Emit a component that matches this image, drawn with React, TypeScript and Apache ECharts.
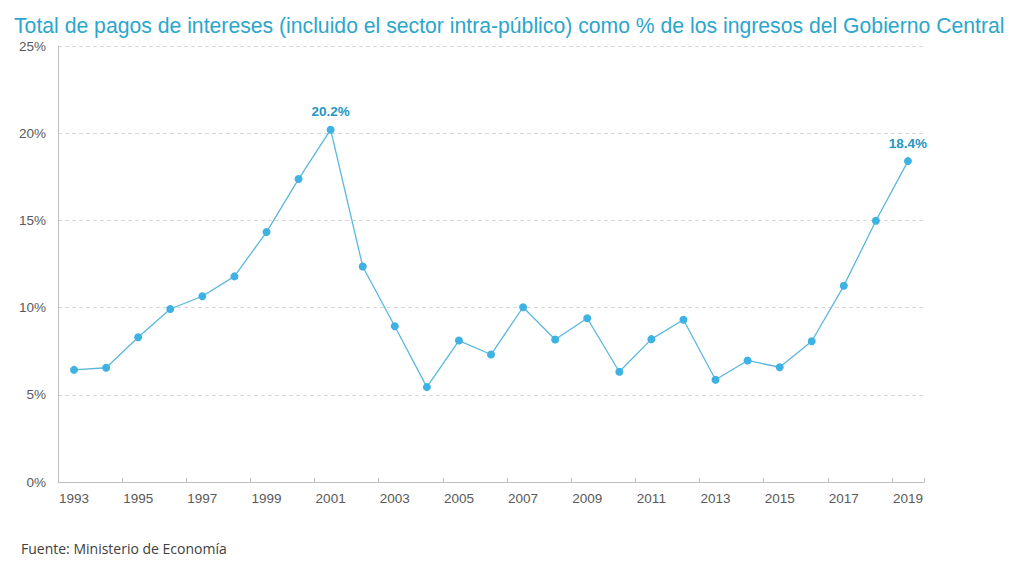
import React, { useEffect, useRef } from "react";
import * as echarts from "echarts";

const years = [
  "1993", "1994", "1995", "1996", "1997", "1998", "1999", "2000", "2001", "2002",
  "2003", "2004", "2005", "2006", "2007", "2008", "2009", "2010", "2011", "2012",
  "2013", "2014", "2015", "2016", "2017", "2018", "2019",
];
const values = [
  6.43, 6.55, 8.3, 9.92, 10.65, 11.79, 14.33, 17.37, 20.2, 12.36,
  8.93, 5.44, 8.11, 7.31, 10.02, 8.17, 9.39, 6.32, 8.19, 9.3,
  5.86, 6.97, 6.58, 8.07, 11.25, 14.98, 18.4,
];
const labelledYears = ["2001", "2019"];
const titleText =
  "Total de pagos de intereses (incluido el sector intra-público) como % de los ingresos del Gobierno Central";
const sourceText = "Fuente: Ministerio de Economía";

export default function App() {
  const ref = useRef<HTMLDivElement>(null);
  useEffect(() => {
    if (!ref.current) return;
    const chart = echarts.init(ref.current, null, { renderer: "svg" });
    chart.setOption({
      animation: false,
      backgroundColor: "#ffffff",
      title: {
        text: titleText,
        left: 1,
        top: 2,
        textStyle: {
          fontFamily: "Liberation Sans, Arial, sans-serif",
          fontSize: 21.2,
          fontWeight: "normal",
          color: "#2ba6cc",
        },
      },
      graphic: [
        {
          type: "text",
          left: 13,
          top: 533,
          style: {
            text: sourceText,
            fontFamily: "Open Sans, sans-serif",
            fontSize: 14,
            fill: "#404040",
          },
        },
      ],
      grid: { left: 50, right: 100, top: 38, bottom: 74 },
      xAxis: {
        type: "category",
        data: years,
        boundaryGap: true,
        axisLine: { lineStyle: { color: "#bfbfbf", width: 1 } },
        axisTick: { show: true, inside: true, length: 4, lineStyle: { color: "#bfbfbf" } },
        axisLabel: {
          interval: 1,
          color: "#595959",
          fontFamily: "Liberation Sans, Arial, sans-serif",
          fontSize: 13.5,
          margin: 9,
        },
        splitLine: { show: false },
      },
      yAxis: {
        type: "value",
        min: 0,
        max: 25,
        interval: 5,
        axisLine: { show: true, lineStyle: { color: "#bfbfbf", width: 1 } },
        axisTick: { show: false },
        axisLabel: {
          formatter: "{value}%",
          color: "#595959",
          fontFamily: "Liberation Sans, Arial, sans-serif",
          fontSize: 13.5,
          margin: 12,
        },
        splitLine: { show: true, lineStyle: { color: "#d9d9d9", type: [4, 3], width: 1 } },
      },
      series: [
        {
          type: "line",
          data: values.map((v, i) => ({
            value: v,
            label: {
              show: labelledYears.includes(years[i]),
              position: "top",
              distance: 7,
              formatter: (p: any) => p.value.toFixed(1) + "%",
              color: "#2596c2",
              fontWeight: "bold",
              fontSize: 13.5,
              fontFamily: "Liberation Sans, Arial, sans-serif",
            },
          })),
          symbol: "circle",
          symbolSize: 8,
          lineStyle: { color: "#5bb8dc", width: 1.3 },
          itemStyle: { color: "#3db2e3" },
        },
      ],
    });
    return () => chart.dispose();
  }, []);
  return <div ref={ref} style={{ width: 1016, height: 548 }} />;
}
